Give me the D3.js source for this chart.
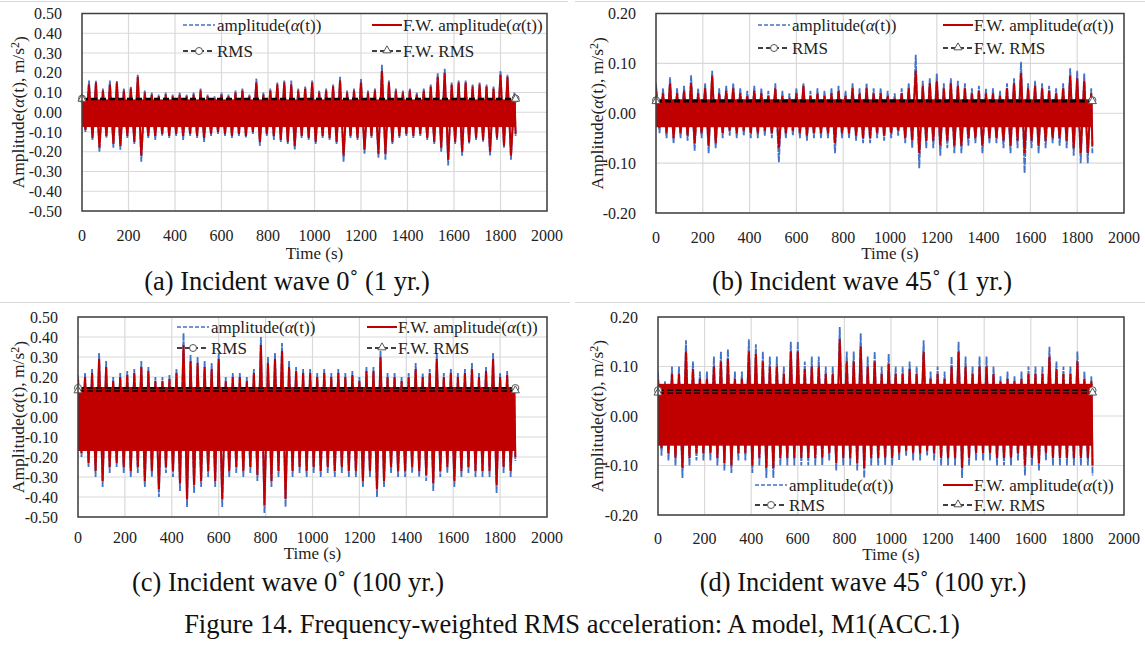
<!DOCTYPE html>
<html lang="en">
<head>
<meta charset="utf-8">
<title>Figure 14. Frequency-weighted RMS acceleration</title>
<script src="https://d3js.org/d3.v7.min.js"></script>
<style>
  body { margin: 0; background: #fff; }
  text { font-family: "Liberation Serif", "Times New Roman", serif; fill: #222; }
</style>
</head>
<body>
<div id="chart"></div>
<script>

// time bins (s), one envelope value per 30 s bin
var binStart = d3.range(0, 1861, 30);
var endTime = 1865;

// (a) incident wave 0 deg, 1 yr
var aBlueMax = [0.09,0.16,0.16,0.12,0.16,0.16,0.12,0.13,0.19,0.11,0.10,0.09,0.10,0.09,0.10,0.09,0.10,0.12,0.09,0.08,0.10,0.09,0.11,0.12,0.09,0.17,0.10,0.12,0.15,0.16,0.16,0.12,0.13,0.16,0.11,0.12,0.14,0.18,0.11,0.12,0.17,0.11,0.12,0.24,0.16,0.12,0.11,0.12,0.10,0.12,0.14,0.20,0.22,0.15,0.16,0.16,0.14,0.15,0.14,0.13,0.21,0.19,0.10];
var aBlueMin = [-0.10,-0.14,-0.20,-0.13,-0.18,-0.19,-0.13,-0.16,-0.25,-0.13,-0.14,-0.12,-0.13,-0.12,-0.14,-0.12,-0.13,-0.15,-0.12,-0.11,-0.12,-0.13,-0.12,-0.13,-0.11,-0.17,-0.12,-0.14,-0.15,-0.16,-0.19,-0.13,-0.14,-0.16,-0.13,-0.14,-0.16,-0.25,-0.13,-0.14,-0.21,-0.13,-0.23,-0.24,-0.16,-0.13,-0.12,-0.13,-0.12,-0.14,-0.16,-0.20,-0.27,-0.16,-0.22,-0.16,-0.14,-0.15,-0.22,-0.14,-0.18,-0.24,-0.12];
var aRedMax = [0.08,0.14,0.15,0.11,0.14,0.15,0.11,0.12,0.18,0.10,0.09,0.08,0.09,0.08,0.09,0.08,0.09,0.11,0.08,0.07,0.09,0.08,0.10,0.11,0.08,0.15,0.09,0.11,0.14,0.15,0.14,0.11,0.12,0.15,0.10,0.11,0.13,0.16,0.10,0.11,0.15,0.10,0.11,0.21,0.15,0.11,0.10,0.11,0.09,0.11,0.13,0.18,0.20,0.14,0.15,0.15,0.13,0.14,0.13,0.12,0.19,0.18,0.09];
var aRedMin = [-0.09,-0.13,-0.18,-0.12,-0.16,-0.17,-0.12,-0.15,-0.22,-0.12,-0.12,-0.11,-0.12,-0.11,-0.12,-0.11,-0.12,-0.13,-0.11,-0.10,-0.11,-0.12,-0.11,-0.12,-0.10,-0.15,-0.11,-0.12,-0.14,-0.15,-0.17,-0.12,-0.13,-0.15,-0.12,-0.13,-0.15,-0.22,-0.12,-0.13,-0.19,-0.12,-0.21,-0.21,-0.15,-0.12,-0.11,-0.12,-0.11,-0.13,-0.15,-0.18,-0.24,-0.15,-0.20,-0.15,-0.13,-0.14,-0.20,-0.13,-0.17,-0.22,-0.11];
var aCore = [0.065, -0.075];   // dense band of the F.W. trace
var aRms = [0.069, 0.065];

// (b) incident wave 45 deg, 1 yr
var bBlueMax = [0.06,0.05,0.072,0.05,0.055,0.076,0.05,0.06,0.085,0.05,0.055,0.06,0.05,0.045,0.055,0.05,0.045,0.06,0.045,0.04,0.05,0.06,0.045,0.05,0.045,0.05,0.055,0.045,0.06,0.05,0.06,0.05,0.05,0.045,0.04,0.05,0.06,0.117,0.065,0.07,0.08,0.06,0.07,0.065,0.06,0.05,0.055,0.05,0.05,0.045,0.06,0.07,0.103,0.06,0.065,0.06,0.055,0.05,0.06,0.09,0.085,0.08,0.05];
var bBlueMin = [-0.04,-0.05,-0.06,-0.05,-0.055,-0.075,-0.05,-0.08,-0.07,-0.05,-0.045,-0.05,-0.045,-0.05,-0.05,-0.045,-0.05,-0.098,-0.05,-0.045,-0.05,-0.055,-0.05,-0.05,-0.05,-0.08,-0.05,-0.05,-0.055,-0.06,-0.06,-0.05,-0.055,-0.05,-0.045,-0.06,-0.07,-0.11,-0.07,-0.07,-0.085,-0.07,-0.08,-0.08,-0.065,-0.06,-0.08,-0.06,-0.06,-0.07,-0.08,-0.07,-0.12,-0.07,-0.08,-0.07,-0.06,-0.065,-0.07,-0.085,-0.1,-0.1,-0.08];
var bRedMax = [0.05,0.04,0.06,0.04,0.045,0.06,0.04,0.05,0.075,0.04,0.045,0.05,0.04,0.035,0.045,0.04,0.035,0.05,0.035,0.03,0.04,0.055,0.035,0.04,0.035,0.04,0.045,0.035,0.05,0.04,0.05,0.04,0.04,0.035,0.03,0.04,0.05,0.085,0.055,0.06,0.065,0.05,0.06,0.055,0.05,0.04,0.045,0.04,0.04,0.035,0.05,0.06,0.08,0.05,0.055,0.05,0.045,0.04,0.05,0.075,0.07,0.065,0.04];
var bRedMin = [-0.03,-0.04,-0.05,-0.04,-0.045,-0.06,-0.04,-0.065,-0.06,-0.04,-0.035,-0.04,-0.035,-0.04,-0.04,-0.035,-0.04,-0.07,-0.04,-0.035,-0.04,-0.045,-0.04,-0.04,-0.04,-0.06,-0.04,-0.04,-0.045,-0.05,-0.05,-0.04,-0.045,-0.04,-0.035,-0.05,-0.055,-0.08,-0.055,-0.055,-0.065,-0.055,-0.065,-0.065,-0.05,-0.05,-0.065,-0.05,-0.05,-0.055,-0.065,-0.055,-0.08,-0.055,-0.065,-0.055,-0.05,-0.05,-0.055,-0.07,-0.08,-0.08,-0.065];
var bCore = [0.028, -0.028];
var bRms = [0.026, 0.023];

// (c) incident wave 0 deg, 100 yr
var cBlueMax = [0.21,0.22,0.24,0.32,0.28,0.2,0.22,0.23,0.24,0.28,0.25,0.2,0.2,0.21,0.24,0.42,0.31,0.30,0.28,0.27,0.32,0.2,0.22,0.22,0.2,0.24,0.40,0.30,0.32,0.37,0.28,0.25,0.24,0.24,0.22,0.24,0.22,0.24,0.22,0.23,0.2,0.25,0.25,0.33,0.22,0.22,0.2,0.22,0.27,0.22,0.24,0.32,0.22,0.24,0.22,0.24,0.27,0.22,0.25,0.32,0.22,0.23,0.15];
var cBlueMin = [-0.2,-0.25,-0.3,-0.35,-0.28,-0.25,-0.28,-0.3,-0.28,-0.35,-0.3,-0.4,-0.28,-0.3,-0.37,-0.45,-0.38,-0.35,-0.3,-0.35,-0.45,-0.3,-0.28,-0.3,-0.28,-0.32,-0.48,-0.35,-0.3,-0.45,-0.3,-0.28,-0.3,-0.28,-0.3,-0.28,-0.3,-0.28,-0.3,-0.3,-0.35,-0.3,-0.4,-0.35,-0.28,-0.3,-0.3,-0.28,-0.3,-0.32,-0.37,-0.3,-0.28,-0.35,-0.3,-0.28,-0.3,-0.3,-0.3,-0.38,-0.28,-0.3,-0.22];
var cRedMax = [0.19,0.2,0.22,0.29,0.25,0.18,0.2,0.21,0.22,0.25,0.23,0.18,0.18,0.19,0.22,0.36,0.28,0.27,0.25,0.24,0.29,0.18,0.2,0.2,0.18,0.22,0.36,0.27,0.29,0.33,0.25,0.23,0.22,0.22,0.2,0.22,0.2,0.22,0.2,0.21,0.18,0.23,0.23,0.3,0.2,0.2,0.18,0.2,0.24,0.2,0.22,0.29,0.2,0.22,0.2,0.22,0.24,0.2,0.23,0.29,0.2,0.21,0.14];
var cRedMin = [-0.18,-0.23,-0.27,-0.32,-0.25,-0.23,-0.25,-0.27,-0.25,-0.32,-0.27,-0.36,-0.25,-0.27,-0.33,-0.41,-0.34,-0.32,-0.27,-0.32,-0.41,-0.27,-0.25,-0.27,-0.25,-0.29,-0.44,-0.32,-0.27,-0.41,-0.27,-0.25,-0.27,-0.25,-0.27,-0.25,-0.27,-0.25,-0.27,-0.27,-0.32,-0.27,-0.36,-0.32,-0.25,-0.27,-0.27,-0.25,-0.27,-0.29,-0.33,-0.27,-0.25,-0.32,-0.27,-0.25,-0.27,-0.27,-0.27,-0.34,-0.25,-0.27,-0.2];
var cCore = [0.15, -0.17];
var cRms = [0.145, 0.13];

// (d) incident wave 45 deg, 100 yr
var dBlueMax = [0.09,0.07,0.1,0.1,0.153,0.11,0.09,0.09,0.12,0.13,0.135,0.09,0.09,0.155,0.145,0.13,0.12,0.12,0.1,0.15,0.15,0.11,0.12,0.12,0.1,0.1,0.18,0.13,0.13,0.167,0.12,0.13,0.1,0.125,0.1,0.1,0.11,0.1,0.153,0.09,0.1,0.09,0.12,0.15,0.12,0.1,0.12,0.12,0.1,0.08,0.09,0.08,0.09,0.1,0.1,0.1,0.14,0.11,0.1,0.1,0.13,0.09,0.08];
var dBlueMin = [-0.08,-0.09,-0.1,-0.125,-0.1,-0.09,-0.09,-0.09,-0.1,-0.11,-0.115,-0.09,-0.09,-0.115,-0.1,-0.125,-0.125,-0.1,-0.1,-0.1,-0.1,-0.1,-0.1,-0.1,-0.09,-0.11,-0.1,-0.1,-0.11,-0.125,-0.1,-0.1,-0.1,-0.1,-0.09,-0.08,-0.09,-0.09,-0.08,-0.09,-0.1,-0.1,-0.1,-0.125,-0.1,-0.09,-0.09,-0.09,-0.1,-0.1,-0.1,-0.09,-0.12,-0.1,-0.11,-0.09,-0.1,-0.1,-0.1,-0.1,-0.1,-0.1,-0.12];
var dRedMax = [0.075,0.06,0.085,0.085,0.13,0.095,0.075,0.075,0.1,0.11,0.115,0.075,0.075,0.13,0.125,0.11,0.1,0.1,0.085,0.13,0.13,0.095,0.1,0.1,0.085,0.085,0.155,0.11,0.11,0.14,0.1,0.11,0.085,0.105,0.085,0.085,0.095,0.085,0.13,0.075,0.085,0.075,0.1,0.13,0.1,0.085,0.1,0.1,0.085,0.07,0.075,0.07,0.075,0.085,0.085,0.085,0.12,0.095,0.085,0.085,0.11,0.075,0.07];
var dRedMin = [-0.065,-0.075,-0.085,-0.105,-0.085,-0.075,-0.075,-0.075,-0.085,-0.095,-0.1,-0.075,-0.075,-0.1,-0.085,-0.105,-0.105,-0.085,-0.085,-0.085,-0.085,-0.085,-0.085,-0.085,-0.075,-0.095,-0.085,-0.085,-0.095,-0.105,-0.085,-0.085,-0.085,-0.085,-0.075,-0.07,-0.075,-0.075,-0.07,-0.075,-0.085,-0.085,-0.085,-0.105,-0.085,-0.075,-0.075,-0.075,-0.085,-0.085,-0.085,-0.075,-0.1,-0.085,-0.095,-0.075,-0.085,-0.085,-0.085,-0.085,-0.085,-0.085,-0.1];
var dCore = [0.065, -0.06];
var dRms = [0.052, 0.046];

var xTicks = d3.range(0, 2001, 200);
var seriesNames = ["amplitude(", "F.W. amplitude(", "RMS", "F.W. RMS"];
var captions = ["(a) Incident wave 0\u02DA (1 yr.)", "(b) Incident wave 45\u02DA (1 yr.)",
                "(c) Incident wave 0\u02DA (100 yr.)", "(d) Incident wave 45\u02DA (100 yr.)"];
var figureTitle = "Figure 14. Frequency-weighted RMS acceleration: A model, M1(ACC.1)";

var blue = "#4472c4", red = "#c00000";

var svg = d3.select("#chart").append("svg")
  .attr("width", 1145)
  .attr("height", 645);

// panel layouts (pixels)
var panels = [
  {id: "a", left: 82, top: 13.5, right: 547, bottom: 211, ymax: 0.5, frame: [0, 568, 1.5],
   leg: {r1: 25, r2: 51, c1: 183, c2: 372}, titleX: 18, capX: 287, capY: 290, tickDy: 24, timeDy: 42,
   data: [aBlueMax, aBlueMin, aRedMax, aRedMin], core: aCore, rms: aRms},
  {id: "b", left: 656, top: 13.5, right: 1124, bottom: 213, ymax: 0.2, frame: [575, 1145, 1.5],
   leg: {r1: 25, r2: 48, c1: 758, c2: 943}, titleX: 597, capX: 862, capY: 290, tickDy: 24, timeDy: 40,
   data: [bBlueMax, bBlueMin, bRedMax, bRedMin], core: bCore, rms: bRms},
  {id: "c", left: 78, top: 317, right: 547, bottom: 517, ymax: 0.5, frame: [0, 570, 302.5],
   leg: {r1: 327, r2: 348, c1: 177, c2: 367}, titleX: 18, capX: 288, capY: 591, tickDy: 20, timeDy: 36,
   data: [cBlueMax, cBlueMin, cRedMax, cRedMin], core: cCore, rms: cRms},
  {id: "d", left: 658, top: 317, right: 1124, bottom: 515, ymax: 0.2, frame: [575, 1145, 302.5],
   leg: {r1: 485, r2: 505, c1: 755, c2: 943}, titleX: 597, capX: 863, capY: 591, tickDy: 23, timeDy: 39,
   data: [dBlueMax, dBlueMin, dRedMax, dRedMin], core: dCore, rms: dRms}
];

// one peak and one trough per bin -> dense oscillating trace
function zigzag(maxs, mins) {
  var n = Math.min(maxs.length, mins.length, binStart.length);
  var pts = [];
  for (var i = 0; i < n; i++) {
    pts.push([Math.min(binStart[i], endTime), maxs[i]]);
    pts.push([Math.min(binStart[i] + 15, endTime), mins[i]]);
  }
  return pts;
}

function fmt(v) {
  return Math.abs(v) < 1e-9 ? "0.00" : v.toFixed(2);
}

function marker(g, type, cx, cy) {
  if (type === "circle") {
    g.append("circle").attr("cx", cx).attr("cy", cy).attr("r", 3.5)
      .attr("fill", "#fff").attr("stroke", "#555").attr("stroke-width", 1);
  } else {
    g.append("path")
      .attr("d", d3.symbol().type(d3.symbolTriangle).size(28)())
      .attr("transform", "translate(" + cx + "," + (cy - 0.5) + ")")
      .attr("fill", "#fff").attr("stroke", "#555").attr("stroke-width", 1);
  }
}

function legendText(g, x, y, label, withAlpha) {
  var t = g.append("text").attr("x", x).attr("y", y).attr("dy", "0.35em")
    .style("font-size", "17px");
  t.append("tspan").text(label);
  if (withAlpha) {
    t.append("tspan").style("font-style", "italic").text("\u03B1");
    t.append("tspan").text("(t))");
  }
}

panels.forEach(function(p) {
  var x = d3.scaleLinear().domain([0, 2000]).range([p.left, p.right]);
  var y = d3.scaleLinear().domain([-p.ymax, p.ymax]).range([p.bottom, p.top]);
  var yTicks = d3.range(-p.ymax, p.ymax + 0.001, 0.1).map(function(v) { return Math.round(v * 100) / 100; });

  var g = svg.append("g");

  // chart area top edge
  g.append("line").attr("x1", p.frame[0]).attr("x2", p.frame[1])
    .attr("y1", p.frame[2]).attr("y2", p.frame[2])
    .attr("stroke", "#d9d9d9").attr("stroke-width", 1);

  // gridlines
  g.append("g").selectAll("line").data(yTicks).enter().append("line")
    .attr("x1", p.left).attr("x2", p.right)
    .attr("y1", function(d) { return y(d); }).attr("y2", function(d) { return y(d); })
    .attr("stroke", "#d9d9d9").attr("stroke-width", 1.2);
  g.append("g").selectAll("line").data(xTicks).enter().append("line")
    .attr("y1", p.top).attr("y2", p.bottom)
    .attr("x1", function(d) { return x(d); }).attr("x2", function(d) { return x(d); })
    .attr("stroke", "#d9d9d9").attr("stroke-width", 1.2);

  svg.append("clipPath").attr("id", "clip-" + p.id).append("rect")
    .attr("x", p.left).attr("y", p.top)
    .attr("width", p.right - p.left).attr("height", p.bottom - p.top);

  var line = d3.line().x(function(d) { return x(d[0]); }).y(function(d) { return y(d[1]); });
  var plot = g.append("g").attr("clip-path", "url(#clip-" + p.id + ")");

  plot.append("path").datum(zigzag(p.data[0], p.data[1]))
    .attr("d", line).attr("fill", "none")
    .attr("stroke", blue).attr("stroke-width", 1.8).attr("stroke-dasharray", "7,1");
  // dense band of the filtered trace
  plot.append("rect")
    .attr("x", x(0)).attr("width", x(endTime) - x(0))
    .attr("y", y(p.core[0])).attr("height", y(p.core[1]) - y(p.core[0]))
    .attr("fill", red);
  plot.append("path").datum(zigzag(p.data[2], p.data[3]))
    .attr("d", line).attr("fill", "none")
    .attr("stroke", red).attr("stroke-width", 2).attr("stroke-linejoin", "bevel");

  // RMS lines
  p.rms.forEach(function(v) {
    plot.append("line")
      .attr("x1", x(0)).attr("x2", x(endTime))
      .attr("y1", y(v)).attr("y2", y(v))
      .attr("stroke", "#000").attr("stroke-width", 1.6)
      .attr("stroke-dasharray", "6,3");
  });
  p.rms.forEach(function(v, k) {
    marker(g, k === 0 ? "circle" : "triangle", x(0), y(v));
    marker(g, k === 0 ? "circle" : "triangle", x(endTime), y(v));
  });

  // plot border
  g.append("rect").attr("x", p.left).attr("y", p.top)
    .attr("width", p.right - p.left).attr("height", p.bottom - p.top)
    .attr("fill", "none").attr("stroke", "#404040").attr("stroke-width", 1.5);

  // y tick labels
  g.append("g").selectAll("text").data(yTicks).enter().append("text")
    .attr("x", p.left - 20).attr("y", function(d) { return y(d); })
    .attr("dy", "0.35em").attr("text-anchor", "end")
    .style("font-size", "16px")
    .text(fmt);

  // x tick labels
  g.append("g").selectAll("text").data(xTicks).enter().append("text")
    .attr("x", function(d) { return x(d); }).attr("y", p.bottom + p.tickDy)
    .attr("dy", "0.35em").attr("text-anchor", "middle")
    .style("font-size", "16px")
    .text(function(d) { return d; });

  g.append("text").attr("x", (p.left + p.right) / 2).attr("y", p.bottom + p.timeDy)
    .attr("dy", "0.35em").attr("text-anchor", "middle")
    .style("font-size", "17px").text("Time (s)");

  // y title
  var yt = g.append("text")
    .attr("transform", "translate(" + p.titleX + "," + ((p.top + p.bottom) / 2) + ") rotate(-90)")
    .attr("text-anchor", "middle").attr("dy", "0.35em")
    .style("font-size", "17.5px");
  yt.append("tspan").text("Amplitude(");
  yt.append("tspan").style("font-style", "italic").text("\u03B1");
  yt.append("tspan").text("(t),  m/s");
  yt.append("tspan").attr("dy", "-0.4em").style("font-size", "12px").text("2");
  yt.append("tspan").attr("dy", "0.4em").text(")");

  // legend
  var L = p.leg;
  g.append("line").attr("x1", L.c1).attr("x2", L.c1 + 32).attr("y1", L.r1).attr("y2", L.r1)
    .attr("stroke", blue).attr("stroke-width", 1.6).attr("stroke-dasharray", "4,2");
  legendText(g, L.c1 + 34, L.r1, seriesNames[0], true);
  g.append("line").attr("x1", L.c2).attr("x2", L.c2 + 30).attr("y1", L.r1).attr("y2", L.r1)
    .attr("stroke", red).attr("stroke-width", 2);
  legendText(g, L.c2 + 31, L.r1, seriesNames[1], true);

  g.append("line").attr("x1", L.c1).attr("x2", L.c1 + 32).attr("y1", L.r2).attr("y2", L.r2)
    .attr("stroke", "#000").attr("stroke-width", 1.6).attr("stroke-dasharray", "5,3");
  marker(g, "circle", L.c1 + 16, L.r2);
  legendText(g, L.c1 + 34, L.r2, seriesNames[2], false);
  g.append("line").attr("x1", L.c2).attr("x2", L.c2 + 30).attr("y1", L.r2).attr("y2", L.r2)
    .attr("stroke", "#000").attr("stroke-width", 1.6).attr("stroke-dasharray", "5,3");
  marker(g, "triangle", L.c2 + 15, L.r2);
  legendText(g, L.c2 + 31, L.r2, seriesNames[3], false);
});

// sub captions
panels.forEach(function(p, i) {
  svg.append("text").attr("x", p.capX).attr("y", p.capY)
    .attr("text-anchor", "middle").style("font-size", "26.5px").style("fill", "#111")
    .text(captions[i]);
});

svg.append("text").attr("x", 572).attr("y", 633)
  .attr("text-anchor", "middle").style("font-size", "26.5px").style("fill", "#111")
  .text(figureTitle);

</script>
</body>
</html>
